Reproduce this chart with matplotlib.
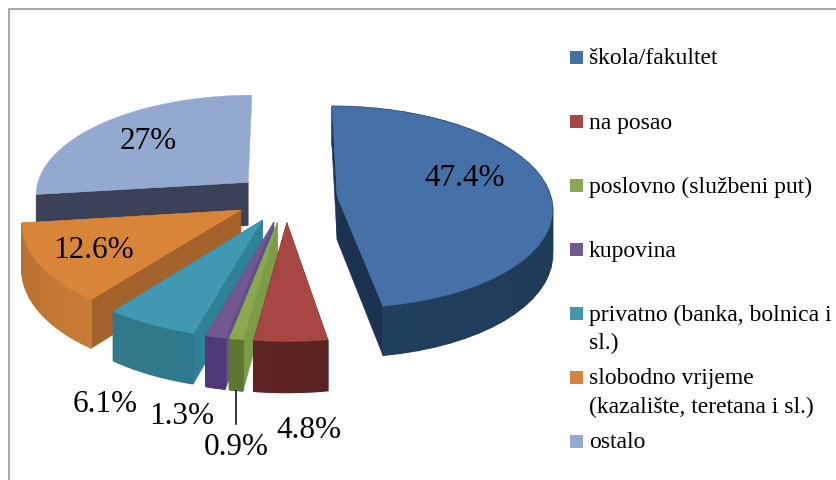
#!/usr/bin/env python3
# Exploded 3D-looking pie (perspective drawn by hand, matplotlib has no 3D pie)

import numpy as np
import matplotlib
matplotlib.use("Agg")
import matplotlib.pyplot as plt
from matplotlib.colors import to_rgb

plt.rcParams["font.family"] = ["Liberation Serif", "DejaVu Serif"]

shares = [47.4, 4.8, 0.9, 1.3, 6.1, 12.6, 27]
value_labels = ["47.4%", "4.8%", "0.9%", "1.3%", "6.1%", "12.6%", "27%"]
legend_labels = ["škola/fakultet", "na posao", "poslovno (službeni put)", "kupovina",
                 "privatno (banka, bolnica i\nsl.)",
                 "slobodno vrijeme\n(kazalište, teretana i sl.)", "ostalo"]
top_colors = ["#4571A8", "#A84644", "#8AA84F", "#71588F", "#4098B1", "#D98539", "#93A9CF"]
edge_colors = ["#1B3351", "#5C2321", "#7E9C47", "#654C8C", "#2F8296", "#A4632B", "#3B4257"]
wall_start = ["#1A3350", "#5A2220", "#5A7830", "#4F3A78", "#2E7A8C", "#C87C36", "#3B4257"]
wall_end = ["#20405F", "#5E2523", "#5A7830", "#4F3A78", "#30788A", "#B87030", "#3B4257"]

# painter's order, back to front
draw_order = [6, 0, 5, 4, 3, 2, 1]

# pie geometry in pixels
cx, cy = 286, 199
rx, ry = 214, 100
depth = 44
persp = 0.11
explode = 0.24

label_pos = [(465, 176), (309, 428), (236, 445), (182, 414), (105, 402), (94, 248), (148, 139)]
legend_y = [58, 122, 186, 250, 314, 378, 442]


def project(x, y, z=0.0):
    s = 1 / (1 + persp * y)
    return cx + rx * x * s, cy - ry * y * s + z * s


def slicePoints(t0, t1, ox, oy, z=0.0):
    t = np.radians(np.linspace(t0, t1, 40))
    return project(ox + np.cos(t), oy + np.sin(t), z)


def drawSlice(ax, i, t0, t1):
    mid = np.radians((t0 + t1) / 2)
    ox, oy = explode * np.cos(mid), explode * np.sin(mid)
    ax0, ay0 = project(ox, oy)
    ax1, ay1 = project(ox, oy, depth)

    # the two cut faces, the back one of the last slice stays out of sight
    for t in (t0, t1):
        if i == 6 and t == t1:
            continue
        a = np.radians(t)
        px0, py0 = project(ox + np.cos(a), oy + np.sin(a))
        px1, py1 = project(ox + np.cos(a), oy + np.sin(a), depth)
        ax.fill([ax0, px0, px1, ax1], [ay0, py0, py1, ay1],
                color=edge_colors[i], lw=0.4, zorder=2)

    tx, ty = slicePoints(t0, t1, ox, oy)
    bx, by = slicePoints(t0, t1, ox, oy, depth)

    # outer wall as thin strips, shaded along the arc (back arc stays hidden)
    if i != 6:
        c0, c1 = np.array(to_rgb(wall_start[i])), np.array(to_rgb(wall_end[i]))
        for k in range(len(tx) - 1):
            col = c0 + (c1 - c0) * k / (len(tx) - 2)
            ax.fill([tx[k], tx[k + 1], bx[k + 1], bx[k]], [ty[k], ty[k + 1], by[k + 1], by[k]],
                    color=tuple(col), lw=1.0, zorder=2)

    # top face
    ax.fill(np.r_[ax0, tx], np.r_[ay0, ty], color=top_colors[i], lw=0.3, zorder=2)


def main():
    fig = plt.figure(figsize=(8.37, 4.81), dpi=100)
    ax = fig.add_axes([0, 0, 1, 1])
    ax.set_xlim(0, 837)
    ax.set_ylim(481, 0)
    ax.axis("off")

    # outer chart frame
    ax.plot([9.5, 9.5, 837], [481, 10, 10], color="#A6A6A6", lw=1.4, zorder=1)

    # clockwise from 12 o'clock
    ends = 90 - 360 * np.cumsum(shares) / sum(shares)
    starts = np.r_[90, ends[:-1]]

    for i in draw_order:
        drawSlice(ax, i, starts[i], ends[i])

    for txt, (x, y) in zip(value_labels, label_pos):
        ax.text(x, y + 3, txt, fontsize=22.5, ha="center", va="center", color="black", zorder=4)

    # leader line of the 0.9% label
    ax.plot([236, 236], [392, 425], color="black", lw=1.1, zorder=3)

    for txt, col, y in zip(legend_labels, top_colors, legend_y):
        ax.fill([570, 583, 583, 570], [y - 6.5, y - 6.5, y + 6.5, y + 6.5], color=col, lw=0, zorder=3)
        ax.text(589, y + 1, txt.split("\n")[0], fontsize=17, ha="left", va="center", zorder=4)
        if "\n" in txt:
            ax.text(589, y + 29, txt.split("\n")[1], fontsize=17, ha="left", va="center", zorder=4)

    fig.savefig("out.png", dpi=100)


if __name__ == '__main__':
    main()
